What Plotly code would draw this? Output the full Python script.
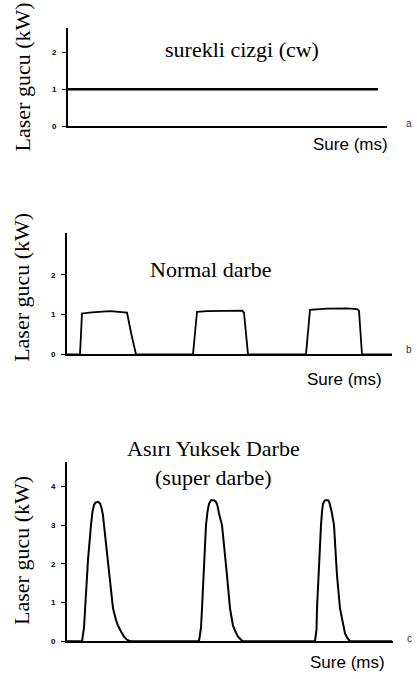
import plotly.graph_objects as go

W, H = 417, 679

# ---- data (time in arbitrary ms units, power in kW) ----
cw_t = [0, 310]
cw_p = [1.0, 1.0]

normal_t = [0, 13, 15, 25, 43, 58, 60, 64, 69,
            126, 130, 140, 160, 175, 177, 181,
            239, 243, 260, 280, 290, 292, 295, 325]
normal_p = [0, 0, 1.03, 1.06, 1.09, 1.07, 1.05, 0.55, 0,
            0, 1.07, 1.09, 1.10, 1.10, 1.05, 0,
            0, 1.12, 1.15, 1.16, 1.14, 1.10, 0, 0]

super_t = [0, 15, 17, 18, 21, 24, 25.5, 27, 28.5, 31, 33, 34.5, 36, 37, 42, 46, 49, 51, 54, 57, 60, 63,
           132, 134, 135, 137, 139, 140.5, 142, 144, 147, 149, 150.5, 152, 155, 160, 163, 165, 166, 169, 171, 174, 176,
           248, 249.5, 250, 252, 254, 255, 256, 258, 261, 262.5, 264, 265, 267, 270, 273, 275, 276, 278, 280, 283, 325]
super_p = [0, 0, 0.35, 0.85, 2.1, 3.0, 3.35, 3.52, 3.58, 3.6, 3.56, 3.45, 3.25, 3.0, 1.7, 0.85, 0.55, 0.4, 0.25, 0.12, 0.04, 0,
           0, 0.35, 0.85, 2.1, 3.0, 3.35, 3.55, 3.64, 3.64, 3.6, 3.5, 3.3, 3.0, 1.7, 0.85, 0.55, 0.4, 0.22, 0.12, 0.04, 0,
           0, 0.3, 0.85, 2.1, 3.0, 3.35, 3.55, 3.64, 3.64, 3.58, 3.45, 3.3, 3.0, 1.7, 0.85, 0.55, 0.4, 0.2, 0.1, 0, 0]

ticks_a = [0, 1, 2]
ticks_b = [0, 1, 2]
ticks_c = [0, 1, 2, 3, 4]

titles = ["surekli cizgi (cw)", "Normal darbe", "Asırı Yuksek Darbe<br>(super darbe)"]
ylabel = "Laser gucu (kW)"
xlabel = "Sure (ms)"
panel_tags = ["a", "b", "c"]

def px(x):
    return x / W

def py(y):
    return 1 - y / H

fig = go.Figure()
fig.add_trace(go.Scatter(x=cw_t, y=cw_p, mode="lines", line=dict(color="black", width=2.5),
                         xaxis="x", yaxis="y", showlegend=False))
fig.add_trace(go.Scatter(x=normal_t, y=normal_p, mode="lines", line=dict(color="black", width=1.8),
                         xaxis="x2", yaxis="y2", showlegend=False))
fig.add_trace(go.Scatter(x=super_t, y=super_p, mode="lines", line=dict(color="black", width=2),
                         xaxis="x3", yaxis="y3", showlegend=False))

tickfont = dict(family="Liberation Sans", size=8, color="black", weight="bold")

def xax(dom, rng, anchor):
    return dict(domain=dom, range=rng, anchor=anchor, showline=True, linecolor="black",
                linewidth=2, showgrid=False, zeroline=False, showticklabels=False, ticks="")

def yax(dom, rng, anchor, tv):
    return dict(domain=dom, range=rng, anchor=anchor, showline=True, linecolor="black",
                linewidth=2, showgrid=False, zeroline=False, tickvals=tv, ticks="outside",
                ticklen=4, tickwidth=1, tickcolor="black", tickfont=tickfont,
                ticklabelstandoff=4)

fig.update_layout(
    width=W, height=H,
    margin=dict(l=0, r=0, t=0, b=0),
    paper_bgcolor="white", plot_bgcolor="white",
    xaxis=xax([px(68), px(387)], [0, 319], "y"),
    yaxis=yax([py(127), py(28)], [0, 99 / 37], "x", ticks_a),
    xaxis2=xax([px(67), px(392)], [0, 325], "y2"),
    yaxis2=yax([py(357), py(235)], [0, 122 / 40], "x2", ticks_b),
    xaxis3=xax([px(67), px(393)], [0, 326], "y3"),
    yaxis3=yax([py(646), py(465)], [0, 181 / 39], "x3", ticks_c),
)

serif = dict(family="Liberation Serif", size=22, color="black")
sans = dict(family="Liberation Sans", size=17, color="black")

ann = []
# titles
ann.append(dict(text=titles[0], x=px(242), y=py(50), font=serif))
ann.append(dict(text=titles[1], x=px(211), y=py(271), font=serif))
ann.append(dict(text=titles[2], x=px(213), y=py(466), font=serif))
# y labels
for yc in (78, 290, 555):
    ann.append(dict(text=ylabel, x=px(22), y=py(yc), textangle=-90, font=serif))
# x labels
for xc, yc in ((350, 146), (344, 382), (347, 667)):
    ann.append(dict(text=xlabel, x=px(xc), y=py(yc), font=sans))
# panel tags
for tag, yc in zip(panel_tags, (124, 352, 643)):
    ann.append(dict(text=tag, x=px(409), y=py(yc), font=dict(family="Liberation Sans", size=10, color="#333")))

for a in ann:
    a.update(xref="paper", yref="paper", showarrow=False, xanchor="center", yanchor="middle")
fig.update_layout(annotations=ann)

fig.write_html("out.html", config={"displayModeBar": False},
               post_script="document.body.style.margin='0';document.body.style.overflow='hidden';")
